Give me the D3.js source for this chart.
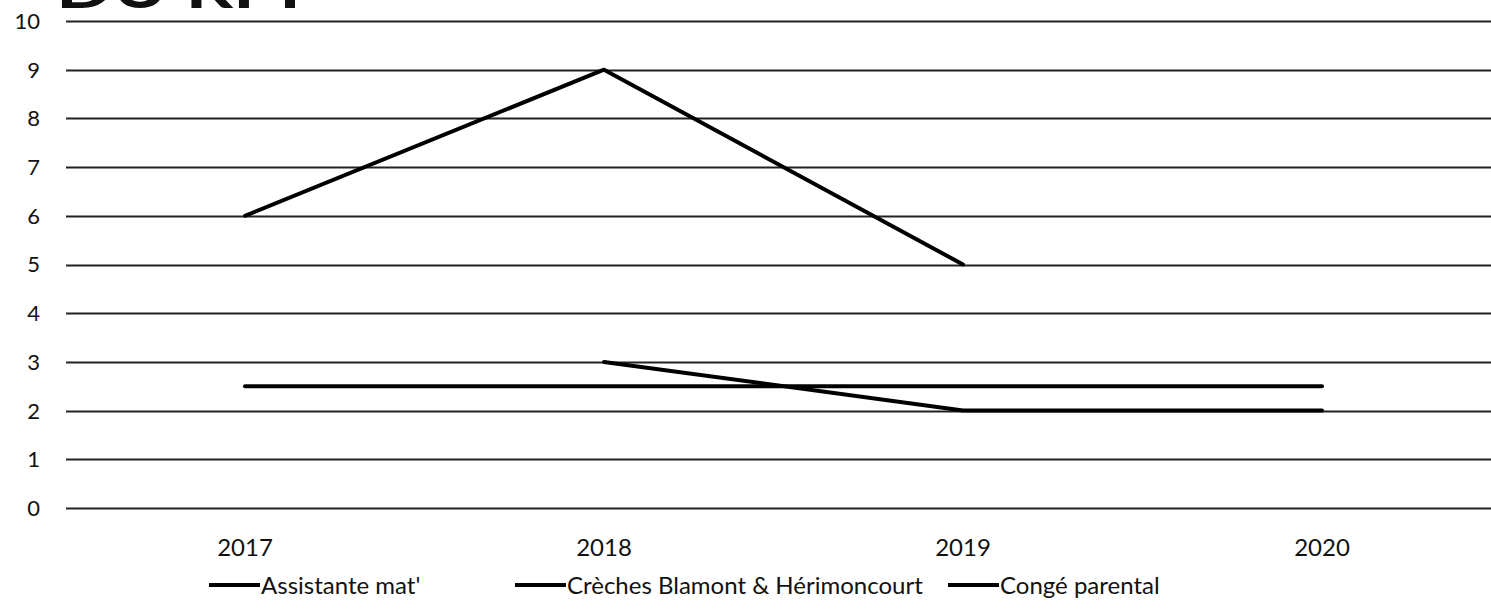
<!DOCTYPE html>
<html>
<head>
<meta charset="utf-8">
<script src="https://cdn.jsdelivr.net/npm/d3@7"></script>
<style>
  html, body { margin: 0; padding: 0; background: #fff; overflow: hidden; }
  svg { display: block; }
  text { font-family: "Lato", "DejaVu Sans", sans-serif; fill: #111; }
</style>
</head>
<body>
<svg id="chart" width="1491" height="611"></svg>
<script>
const years = ["2017", "2018", "2019", "2020"];
const seriesNames = ["Assistante mat'", "Crèches Blamont & Hérimoncourt", "Congé parental"];
const assistanteMat = [6, 9, 5, null];
const creches = [null, 3, 2, 2];
const congeParental = [2.5, 2.5, 2.5, 2.5];
const yTicks = [0, 1, 2, 3, 4, 5, 6, 7, 8, 9, 10];
const titleText = "DU RPI";

const allSeries = [assistanteMat, creches, congeParental];

const svg = d3.select("#chart");
const x = d3.scaleBand().domain(years).range([65.5, 1501.5]);
const y = d3.scaleLinear().domain([0, 10]).range([508, 21]);

// Title (cut off at top, as in the reference)
svg.append("text")
  .attr("x", 56).attr("y", 8)
  .attr("font-size", 54).attr("font-weight", "bold")
  .attr("textLength", 245).attr("lengthAdjust", "spacingAndGlyphs")
  .text(titleText);

// Gridlines
svg.append("g").selectAll("line").data(yTicks).join("line")
  .attr("x1", 66).attr("x2", 1501)
  .attr("y1", d => Math.round(y(d)) + 0.5).attr("y2", d => Math.round(y(d)) + 0.5)
  .attr("stroke", "#222").attr("stroke-width", 1.8);

// Y labels
svg.append("g").selectAll("text").data(yTicks).join("text")
  .attr("x", 40).attr("y", d => y(d)).attr("dy", "0.36em")
  .attr("text-anchor", "end").attr("font-size", 22)
  .text(d => d);

// X labels
svg.append("g").selectAll("text").data(years).join("text")
  .attr("x", d => x(d) + x.bandwidth() / 2).attr("y", 547).attr("dy", "0.36em")
  .attr("text-anchor", "middle").attr("font-size", 24)
  .text(d => d);

// Lines
const line = d3.line()
  .defined(d => d.v != null)
  .x(d => x(d.year) + x.bandwidth() / 2)
  .y(d => y(d.v));

allSeries.forEach(vals => {
  const pts = years.map((yr, i) => ({ year: yr, v: vals[i] }));
  svg.append("path")
    .attr("d", line(pts))
    .attr("fill", "none")
    .attr("stroke", "#000")
    .attr("stroke-width", 4)
    .attr("stroke-linejoin", "round")
    .attr("stroke-linecap", "round");
});

// Legend
const legendX = [209, 515, 948];
const legendY = 585;
const lg = svg.append("g").selectAll("g").data(seriesNames).join("g")
  .attr("transform", (d, i) => `translate(${legendX[i]},${legendY})`);
lg.append("line").attr("x1", 0).attr("x2", 51).attr("y1", 0).attr("y2", 0)
  .attr("stroke", "#000").attr("stroke-width", 4);
lg.append("text").attr("x", 52).attr("y", 0).attr("dy", "0.36em")
  .attr("font-size", 24).text(d => d);
</script>
</body>
</html>
